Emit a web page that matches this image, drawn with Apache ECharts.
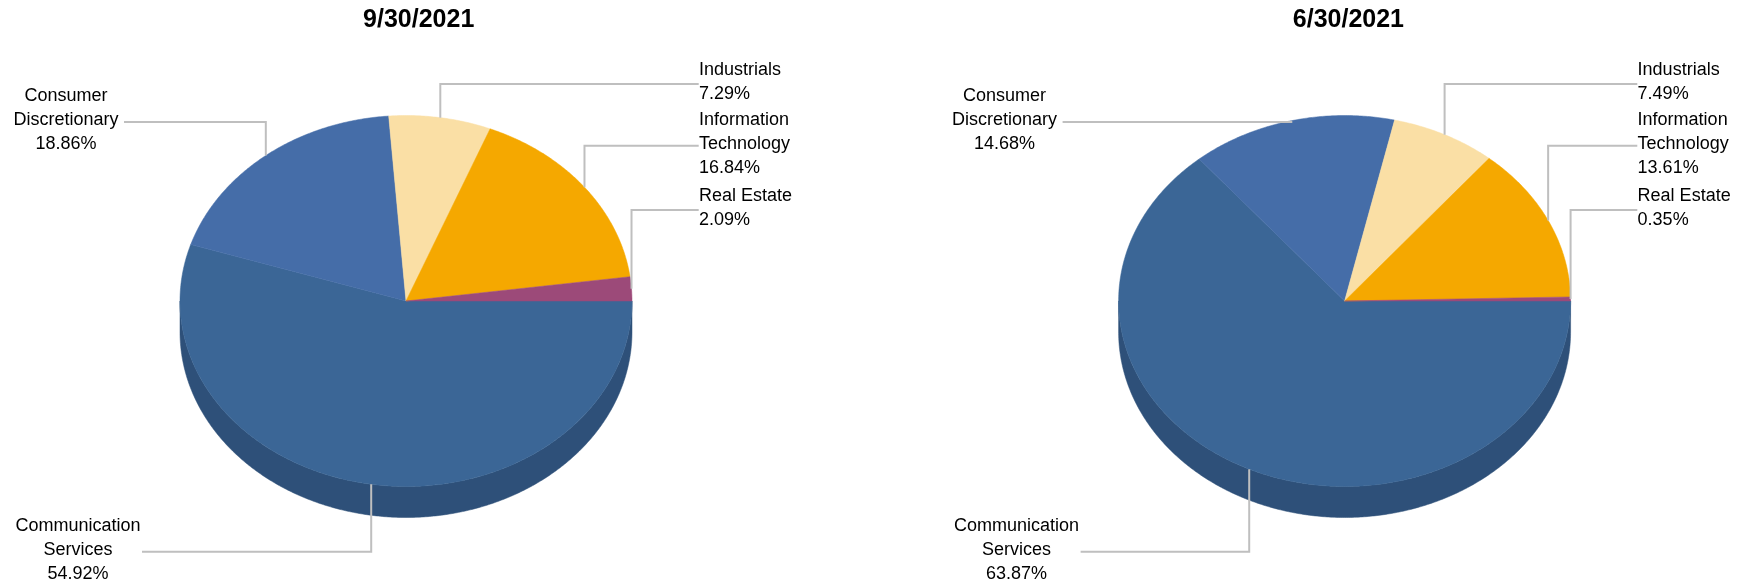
<!DOCTYPE html>
<html>
<head>
<meta charset="utf-8">
<script src="https://cdn.jsdelivr.net/npm/echarts@6/dist/echarts.min.js"></script>
<style>
  html, body { margin: 0; padding: 0; background: #ffffff; }
  #chart { width: 1747px; height: 586px; }
</style>
</head>
<body>
<div id="chart"></div>
<script>
// Sector weights at two quarter-ends
const dates = ['9/30/2021', '6/30/2021'];
const sectors = ['Communication Services', 'Consumer Discretionary', 'Industrials', 'Information Technology', 'Real Estate'];
const labelLines = [['Communication', 'Services'], ['Consumer', 'Discretionary'], ['Industrials'], ['Information', 'Technology'], ['Real Estate']];
const weightsSep = [54.92, 18.86, 7.29, 16.84, 2.09];
const weightsJun = [63.87, 14.68, 7.49, 13.61, 0.35];

// Slice colours: top face and the darker rim
const topColors = ['#3B6696', '#456DA8', '#FADFA5', '#F5A800', '#9C4A79'];
const sideColors = ['#2E5079', '#35548A', '#C9B27F', '#C48600', '#7A3A5E'];

// Geometry of each tilted pie
const FONT = '"Liberation Sans", Arial, sans-serif';
const pieCenters = [[406, 301], [1344.6, 301]];
const RX = 226, RY = 185.5, DEPTH = 31;

// Label placement per sector, relative to the pie centre
const labelSlots = [
  { align: 'center', tx: -328, ty: 248.7, ax: -264, ay: 250.7 },
  { align: 'center', tx: -340, ty: -181, ax: -282, ay: -179 },
  { align: 'left', tx: 293, ty: -219, ax: 292.7, ay: -217 },
  { align: 'left', tx: 293, ty: -157.3, ax: 292.7, ay: -155.3 },
  { align: 'left', tx: 293, ty: -93, ax: 292.7, ay: -91 }
];

function arcPoints(cx, cy, a0, a1, dy) {
  const pts = [];
  const n = Math.max(2, Math.ceil(Math.abs(a1 - a0) / (Math.PI / 360)));
  for (let k = 0; k <= n; k++) {
    const a = a0 + (a1 - a0) * k / n;
    pts.push([cx + RX * Math.cos(a), cy + RY * Math.sin(a) + dy]);
  }
  return pts;
}

function pieSeries(k, values) {
  const starts = [];
  let acc = 0;
  values.forEach(v => { starts.push(acc); acc += v; });
  const total = acc;
  const [cx, cy] = pieCenters[k];
  return {
    type: 'custom',
    name: dates[k],
    coordinateSystem: 'none',
    silent: true,
    data: values.map((v, i) => ({ name: sectors[i], value: [v, starts[i], total] })),
    renderItem: function (params, api) {
      const i = params.dataIndex;
      const v = api.value(0), s = api.value(1), tot = api.value(2);
      const a0 = s / tot * 2 * Math.PI;
      const a1 = (s + v) / tot * 2 * Math.PI;
      const children = [];

      // front rim of the slice (lower half of the ellipse)
      const lo = Math.max(a0, 0), hi = Math.min(a1, Math.PI);
      if (hi > lo) {
        const upper = arcPoints(cx, cy, lo, hi, 0);
        const lower = arcPoints(cx, cy, hi, lo, DEPTH);
        children.push({
          type: 'polygon', z2: 1,
          shape: { points: upper.concat(lower) },
          style: { fill: sideColors[i], stroke: sideColors[i], lineWidth: 0.5 }
        });
      }

      // top face
      children.push({
        type: 'polygon', z2: 2,
        shape: { points: [[cx, cy]].concat(arcPoints(cx, cy, a0, a1, 0)) },
        style: { fill: topColors[i], stroke: topColors[i], lineWidth: 0.5 }
      });

      // elbow leader from the slice's mid-angle on the rim
      const m = (a0 + a1) / 2;
      const px = cx + RX * Math.cos(m), py = cy + RY * Math.sin(m);
      const slot = labelSlots[i];
      children.push({
        type: 'polyline', z2: 5,
        shape: { points: [[px, py], [px, cy + slot.ay], [cx + slot.ax, cy + slot.ay]] },
        style: { stroke: '#BFBFBF', lineWidth: 2, fill: null }
      });

      children.push({
        type: 'text', z2: 6,
        x: cx + slot.tx, y: cy + slot.ty,
        style: {
          text: labelLines[i].concat([v.toFixed(2) + '%']).join('\n'),
          fill: '#000000',
          fontSize: 18,
          fontFamily: FONT,
          lineHeight: 24,
          align: slot.align,
          verticalAlign: 'middle'
        }
      });

      return { type: 'group', children: children };
    }
  };
}

const chart = echarts.init(document.getElementById('chart'), null, { renderer: 'canvas' });
chart.setOption({
  backgroundColor: '#ffffff',
  animation: false,
  graphic: [
    { type: 'text', x: 418.7, y: 20, style: { text: dates[0], fontSize: 25, fontWeight: 'bold', fontFamily: FONT, fill: '#000', align: 'center', verticalAlign: 'middle' } },
    { type: 'text', x: 1348.4, y: 20, style: { text: dates[1], fontSize: 25, fontWeight: 'bold', fontFamily: FONT, fill: '#000', align: 'center', verticalAlign: 'middle' } }
  ],
  series: [pieSeries(0, weightsSep), pieSeries(1, weightsJun)]
});
</script>
</body>
</html>
